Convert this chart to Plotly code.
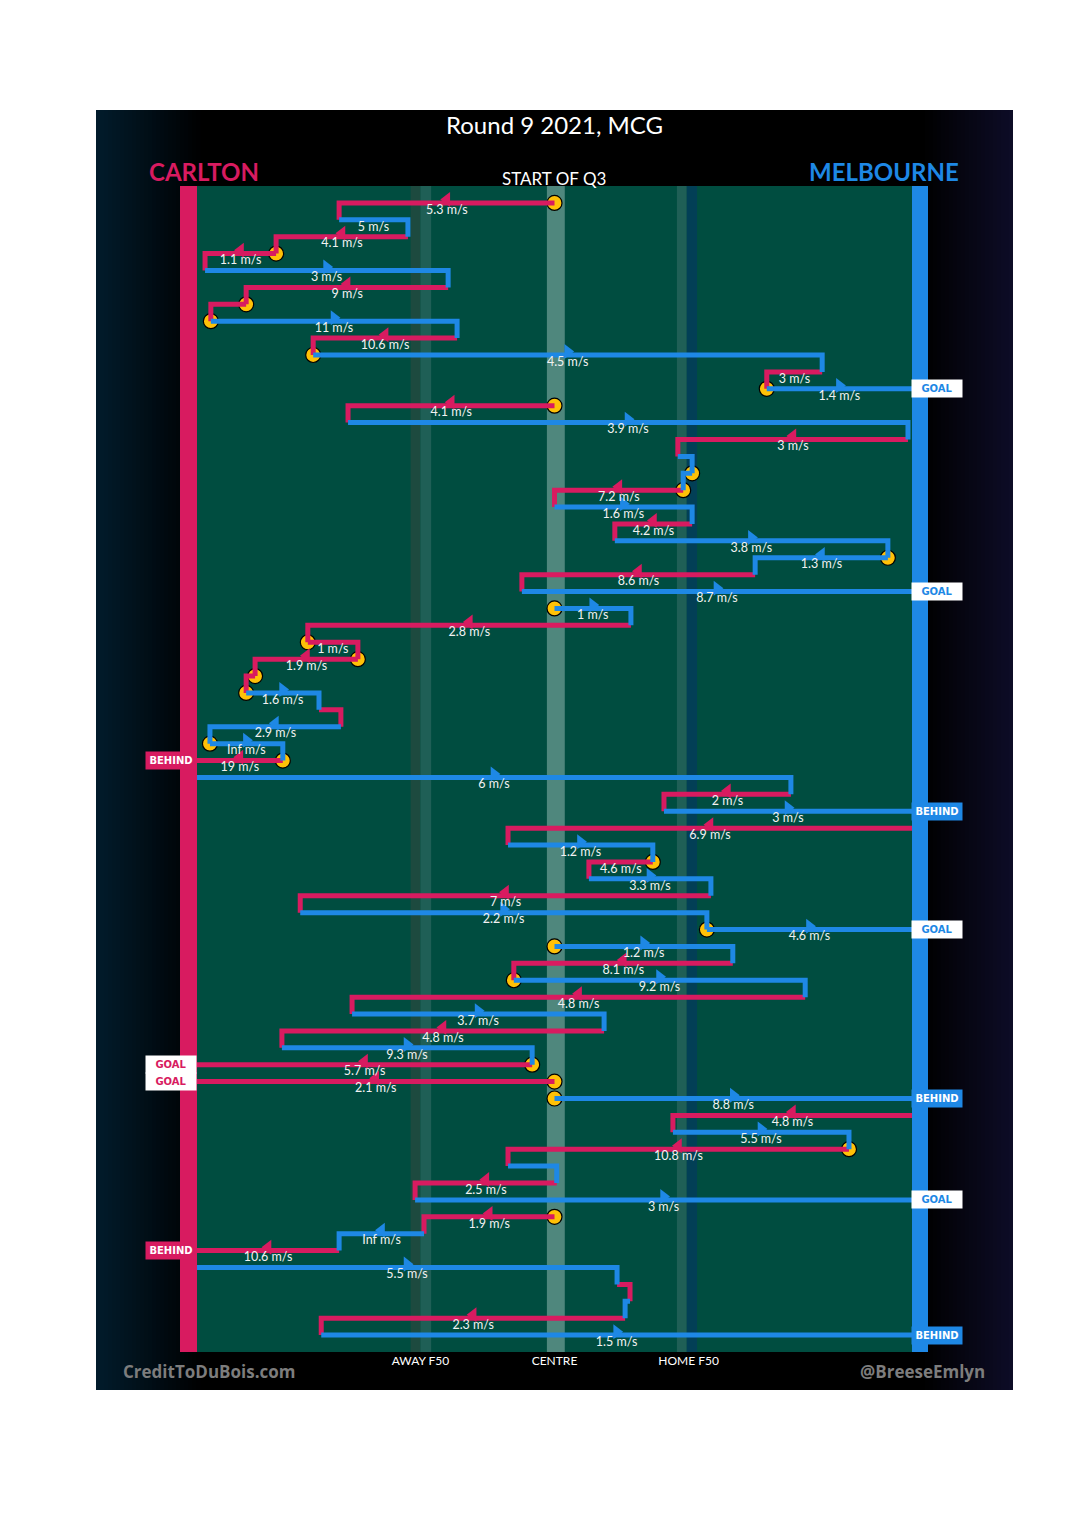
import plotly.graph_objects as go

# ---------------- data (x in metres from centre: -80 = Carlton goal, +80 = Melbourne goal)
teams = ['C','M','C','C','M','C','C','M','C','M','C','M',
         'C','M','C','M','M','C','M','C','M','M','C','M',
         'M','C','C','C','C','M','C','M','M','C',
         'M','C','M',
         'C','M','C','M','C','M','M',
         'M','C','M','C','M','C','M','C',
         'C',
         'M','C','M','C','M','C','M',
         'C','M','C',
         'M','C','M','C','M']
x_start = [0, -48.2, -32.8, -62.3, -78.2, -23.8, -69.0, -76.9, -21.8, -54.0, 59.9, 47.5,
           0, -46.2, 79.1, 27.6, 30.8, 28.8, 0, 30.8, 13.5, 74.6, 44.9, -7.3,
           0, 17.1, -55.2, -44.0, -67.0, -69.0, -52.7, -47.8, -77.1, -60.8,
           -80, 52.9, 24.5,
           80, -10.4, 22.0, 7.7, 35.0, -56.9, 34.1,
           0, 39.9, -9.1, 56.1, -45.3, 11.1, -61.0, -5.0,
           0,
           0, 80, 26.5, 65.9, -10.4, 0.5, -31.2,
           0, -29.2, -48.2,
           -80, 14.0, 16.9, 15.8, -52.2]
x_end = [-48.2, -32.8, -62.3, -78.2, -23.8, -69.0, -76.9, -21.8, -54.0, 59.9, 47.5, 80,
         -46.2, 79.1, 27.6, 30.8, 28.8, 0, 30.8, 13.5, 74.6, 44.9, -7.3, 80,
         17.1, -55.2, -44.0, -67.0, -69.0, -52.7, -47.8, -77.1, -60.8, -80,
         52.9, 24.5, 80,
         -10.4, 22.0, 7.7, 35.0, -56.9, 34.1, 80,
         39.9, -9.1, 56.1, -45.3, 11.1, -61.0, -5.0, -80,
         -80,
         80, 26.5, 65.9, -10.4, 0.5, -31.2, 80,
         -29.2, -48.2, -80,
         14.0, 16.9, 15.8, -52.2, 80]
speeds = ['5.3', '5', '4.1', '1.1', '3', '9', '', '11', '10.6', '4.5', '3', '1.4',
          '4.1', '3.9', '3', '', '', '7.2', '1.6', '4.2', '3.8', '1.3', '8.6', '8.7',
          '1', '2.8', '1', '1.9', '', '1.6', '', '2.9', 'Inf', '19',
          '6', '2', '3',
          '6.9', '1.2', '4.6', '3.3', '7', '2.2', '4.6',
          '1.2', '8.1', '9.2', '4.8', '3.7', '4.8', '9.3', '5.7',
          '2.1',
          '8.8', '4.8', '5.5', '10.8', '', '2.5', '3',
          '1.9', 'Inf', '10.6',
          '5.5', '', '', '2.3', '1.5']
stoppage = [1, 0, 0, 1, 0, 0, 1, 1, 0, 1, 0, 1,
            1, 0, 0, 0, 1, 1, 0, 0, 0, 1, 0, 0,
            1, 0, 1, 1, 1, 1, 0, 0, 1, 1,
            0, 0, 0,
            0, 0, 1, 0, 0, 0, 1,
            1, 0, 1, 0, 0, 0, 0, 1,
            1,
            1, 0, 0, 1, 0, 0, 0,
            1, 0, 0,
            0, 0, 0, 0, 0]
outcome = ['', '', '', '', '', '', '', '', '', '', '', 'GOAL',
           '', '', '', '', '', '', '', '', '', '', '', 'GOAL',
           '', '', '', '', '', '', '', '', '', 'BEHIND',
           '', '', 'BEHIND',
           '', '', '', '', '', '', 'GOAL',
           '', '', '', '', '', '', '', 'GOAL',
           'GOAL',
           'BEHIND', '', '', '', '', '', 'GOAL',
           '', '', 'BEHIND',
           '', '', '', '', 'BEHIND']

tick_vals = [-30, 0, 30]
tick_text = ['AWAY F50', 'CENTRE', 'HOME F50']

team_colors = {'C': '#D81B60', 'M': '#1E88E5'}
FIELD = '#004D40'
n = len(teams)

OFF = 8  # page body margin
W, H = 1080 - 2 * OFF, 1515 - 2 * OFF
L_PX, R_PX, T_PX, B_PX = 197, 912, 186, 1352  # page pixel positions of the field


def pxx(p):
    return (p - L_PX) / (R_PX - L_PX)


def pxy(p):
    return (B_PX - p) / (B_PX - T_PX)


shapes = []
# panel with horizontal gradient
shapes.append(dict(type='rect', xref='paper', yref='paper', x0=pxx(96), x1=pxx(1013),
                   y0=pxy(1390), y1=pxy(110), fillcolor='#000000', line_width=0, layer='below'))
ls = 26
for k in range(ls):
    a = 1 - k / ls
    c = 'rgb(%d,%d,%d)' % (round(1 * a), round(27 * a), round(43 * a))
    x0 = 96 + k * 4
    shapes.append(dict(type='rect', xref='paper', yref='paper', x0=pxx(x0), x1=pxx(x0 + 4.5),
                       y0=pxy(1390), y1=pxy(110), fillcolor=c, line_width=0, layer='below'))
rs = 22
for k in range(rs):
    a = (k + 1) / rs
    c = 'rgb(%d,%d,%d)' % (round(13 * a), round(12 * a), round(38 * a))
    x0 = 925 + k * 4
    shapes.append(dict(type='rect', xref='paper', yref='paper', x0=pxx(x0),
                       x1=pxx(min(x0 + 4.5, 1013)),
                       y0=pxy(1390), y1=pxy(110), fillcolor=c, line_width=0, layer='below'))
# field
shapes.append(dict(type='rect', xref='x', yref='paper', x0=-80, x1=80, y0=0, y1=1,
                   fillcolor=FIELD, line_width=0, layer='below'))
# 50 m arcs / centre bands
bands = [(-32.2, -30.0, '#1d4a3f'), (-30.0, -27.6, '#1f5f56'),
         (-1.7, 2.3, '#4f877d'), (27.4, 29.6, '#1f5f56'), (29.6, 31.9, '#023f56')]
for b0, b1, c in bands:
    shapes.append(dict(type='rect', xref='x', yref='paper', x0=b0, x1=b1, y0=0, y1=1,
                       fillcolor=c, line_width=0, layer='below'))
# goal-end bars
shapes.append(dict(type='rect', xref='paper', yref='paper', x0=pxx(180), x1=0, y0=0, y1=1,
                   fillcolor=team_colors['C'], line_width=0, layer='below'))
shapes.append(dict(type='rect', xref='paper', yref='paper', x0=1, x1=pxx(928), y0=0, y1=1,
                   fillcolor=team_colors['M'], line_width=0, layer='below'))

fig = go.Figure()

# stoppage circles (under lines)
cx = [x_start[i] for i in range(n) if stoppage[i]]
cy = [i for i in range(n) if stoppage[i]]
fig.add_trace(go.Scatter(x=cx, y=cy, mode='markers',
                         marker=dict(symbol='circle', size=15, color='#FFC107',
                                     line=dict(color='black', width=1.2)),
                         hoverinfo='skip', showlegend=False))

# possession lines
for t in ['C', 'M']:
    xs, ys = [], []
    for i in range(n):
        if teams[i] != t:
            continue
        xs += [x_start[i], x_end[i]]
        ys += [i, i]
        if outcome[i] == '' and i < n - 1:
            xs.append(x_end[i])
            ys.append(i + 1)
        xs.append(None)
        ys.append(None)
    fig.add_trace(go.Scatter(x=xs, y=ys, mode='lines',
                             line=dict(color=team_colors[t], width=5),
                             hoverinfo='skip', showlegend=False))

# direction arrows
ax, ay, asym, acol = [], [], [], []
for i in range(n):
    if speeds[i] and abs(x_end[i] - x_start[i]) > 15.5:
        ax.append((x_start[i] + x_end[i]) / 2)
        ay.append(i - 0.2)
        asym.append('triangle-left' if x_end[i] < x_start[i] else 'triangle-right')
        acol.append(team_colors[teams[i]])
fig.add_trace(go.Scatter(x=ax, y=ay, mode='markers',
                         marker=dict(symbol=asym, size=13, color=acol, line_width=0),
                         hoverinfo='skip', showlegend=False))

# speed labels
lx, ly, lt = [], [], []
for i in range(n):
    if speeds[i]:
        lx.append((x_start[i] + x_end[i]) / 2)
        ly.append(i + 0.08)
        lt.append(speeds[i] + ' m/s')
fig.add_trace(go.Scatter(x=lx, y=ly, mode='text', text=lt, textposition='bottom center',
                         textfont=dict(family='Lato', size=12.5, color='#f2f2f2'),
                         hoverinfo='skip', showlegend=False))

annotations = []
# outcome boxes
for i in range(n):
    if not outcome[i]:
        continue
    tc = team_colors[teams[i]]
    if x_end[i] > 0:
        xp = pxx(937)
    else:
        xp = pxx(171)
    if outcome[i] == 'GOAL':
        bg, fc = 'white', tc
    else:
        bg, fc = tc, 'white'
    annotations.append(dict(xref='paper', yref='y', x=xp, y=i, text='<b>' + outcome[i] + '</b>',
                            showarrow=False, bgcolor=bg, width=48, height=15, borderpad=1,
                            font=dict(family='DejaVu Sans', size=10, color=fc),
                            xanchor='center', yanchor='middle'))

annotations += [
    dict(xref='paper', yref='paper', x=pxx(554), y=pxy(125), text='Round 9 2021, MCG',
         showarrow=False, font=dict(family='Lato', size=24, color='white'),
         xanchor='center', yanchor='middle'),
    dict(xref='paper', yref='paper', x=pxx(147), y=pxy(171), text='<b>CARLTON</b>',
         showarrow=False, font=dict(family='Lato', size=24, color=team_colors['C']),
         xanchor='left', yanchor='middle'),
    dict(xref='paper', yref='paper', x=pxx(961), y=pxy(171), text='<b>MELBOURNE</b>',
         showarrow=False, font=dict(family='Lato', size=24, color=team_colors['M']),
         xanchor='right', yanchor='middle'),
    dict(xref='paper', yref='paper', x=pxx(554), y=pxy(178), text='START OF Q3',
         showarrow=False, font=dict(family='Lato', size=17, color='white'),
         xanchor='center', yanchor='middle'),
    dict(xref='paper', yref='paper', x=pxx(121), y=pxy(1371), text='<b>CreditToDuBois.com</b>',
         showarrow=False, font=dict(family='Open Sans', size=17, color='#7d7d7d'),
         xanchor='left', yanchor='middle'),
    dict(xref='paper', yref='paper', x=pxx(987), y=pxy(1371), text='<b>@BreeseEmlyn</b>',
         showarrow=False, font=dict(family='Open Sans', size=17, color='#7d7d7d'),
         xanchor='right', yanchor='middle'),
]

fig.update_layout(
    width=W, height=H,
    margin=dict(l=L_PX - OFF, r=W - (R_PX - OFF), t=T_PX - OFF, b=H - (B_PX - OFF), pad=0),
    paper_bgcolor='white', plot_bgcolor='rgba(0,0,0,0)',
    shapes=shapes, annotations=annotations, showlegend=False,
    xaxis=dict(range=[-80, 80], showgrid=False, zeroline=False, fixedrange=True,
               tickvals=tick_vals, ticktext=tick_text, ticks='', ticklen=0,
               tickfont=dict(family='Lato', size=12, color='white'), showline=False),
    yaxis=dict(range=[n, -1], showgrid=False, zeroline=False, showticklabels=False,
               fixedrange=True, showline=False),
)

fig.write_html('out.html')
